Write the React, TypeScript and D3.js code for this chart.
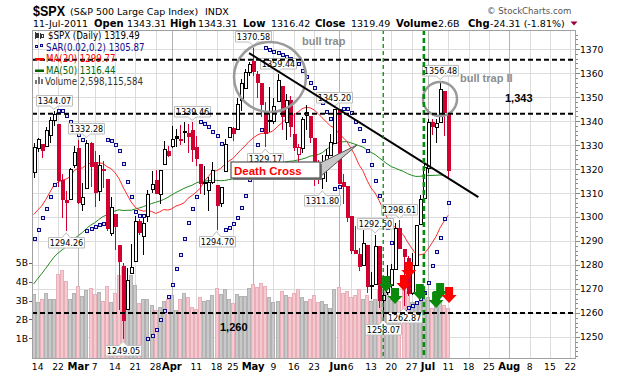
import React from "react";
import * as d3 from "d3";

// ---------- DATA ----------
const dates = [
  "Feb 11","Feb 14","Feb 15","Feb 16","Feb 17","Feb 18","Feb 22","Feb 23","Feb 24","Feb 25","Feb 28",
  "Mar 1","Mar 2","Mar 3","Mar 4","Mar 7","Mar 8","Mar 9","Mar 10","Mar 11","Mar 14","Mar 15","Mar 16","Mar 17","Mar 18","Mar 21","Mar 22","Mar 23","Mar 24","Mar 25","Mar 28","Mar 29","Mar 30","Mar 31",
  "Apr 1","Apr 4","Apr 5","Apr 6","Apr 7","Apr 8","Apr 11","Apr 12","Apr 13","Apr 14","Apr 15","Apr 18","Apr 19","Apr 20","Apr 21","Apr 25","Apr 26","Apr 27","Apr 28","Apr 29",
  "May 2","May 3","May 4","May 5","May 6","May 9","May 10","May 11","May 12","May 13","May 16","May 17","May 18","May 19","May 20","May 23","May 24","May 25","May 26","May 27","May 31",
  "Jun 1","Jun 2","Jun 3","Jun 6","Jun 7","Jun 8","Jun 9","Jun 10","Jun 13","Jun 14","Jun 15","Jun 16","Jun 17","Jun 20","Jun 21","Jun 22","Jun 23","Jun 24","Jun 27","Jun 28","Jun 29","Jun 30",
  "Jul 1","Jul 5","Jul 6","Jul 7","Jul 8","Jul 11"];

const opens = [
  1318.66,1328.73,1330.43,1329.51,1334.37,1340.38,1338.91,1315.44,1307.09,1307.34,1321.61,
  1328.64,1305.47,1312.37,1330.73,1322.72,1311.05,1319.92,1315.72,1293.43,1301.19,1288.46,1279.46,1261.61,1276.71,1281.65,1298.29,1292.19,1300.61,1311.80,1315.45,1309.37,1321.89,1327.44,
  1329.48,1333.56,1332.03,1335.94,1334.82,1336.16,1329.01,1321.96,1314.03,1311.13,1314.54,1313.35,1305.99,1319.12,1333.23,1337.14,1336.75,1348.43,1353.86,1360.14,
  1365.21,1359.76,1355.90,1344.16,1340.24,1340.20,1348.34,1354.51,1339.39,1348.69,1334.77,1326.10,1328.54,1342.40,1342.00,1333.07,1317.70,1316.36,1320.64,1325.69,1331.10,
  1345.20,1314.55,1312.94,1300.26,1286.31,1284.63,1279.63,1288.26,1271.31,1272.22,1287.87,1265.53,1268.58,1271.50,1278.40,1295.48,1286.60,1283.04,1268.44,1280.21,1296.85,1307.64,
  1320.64,1339.59,1337.56,1339.62,1352.39,1343.31];

const highs = [
  1330.79,1332.96,1330.43,1337.61,1341.50,1344.07,1338.91,1317.91,1310.91,1320.61,1329.38,
  1332.09,1314.19,1332.28,1331.08,1327.68,1325.74,1323.21,1315.72,1308.35,1301.19,1288.46,1280.91,1278.88,1288.88,1300.58,1299.35,1300.51,1311.34,1319.18,1319.74,1319.45,1331.74,1329.77,
  1337.85,1336.74,1338.21,1339.46,1338.80,1339.46,1333.77,1321.96,1321.35,1316.79,1322.88,1313.35,1312.70,1332.66,1337.49,1337.55,1349.55,1357.49,1361.71,1364.56,
  1370.58,1360.84,1355.90,1348.00,1354.36,1349.44,1359.44,1354.51,1351.05,1350.47,1343.33,1330.42,1341.82,1346.82,1342.00,1333.07,1323.72,1325.86,1328.51,1334.62,1345.20,
  1345.20,1318.03,1312.94,1300.26,1296.22,1287.04,1294.54,1288.26,1277.04,1292.50,1287.87,1274.11,1279.82,1280.42,1297.62,1298.61,1286.60,1283.93,1284.91,1296.80,1309.21,1321.97,
  1341.01,1340.89,1340.94,1356.48,1352.39,1343.31];

const lows = [
  1316.08,1326.90,1324.61,1329.51,1331.00,1338.12,1312.33,1299.55,1294.26,1307.34,1320.55,
  1305.34,1302.58,1312.37,1312.59,1303.99,1306.86,1312.27,1294.21,1291.99,1286.37,1261.12,1249.05,1261.61,1276.18,1281.65,1292.70,1284.05,1297.74,1310.15,1310.19,1305.26,1321.89,1325.03,
  1328.89,1329.10,1330.03,1330.66,1326.56,1322.94,1321.06,1309.51,1309.19,1302.42,1313.68,1294.70,1303.97,1319.12,1332.82,1331.47,1336.75,1344.25,1353.60,1358.69,
  1358.59,1349.52,1341.50,1329.17,1335.58,1338.64,1348.34,1336.36,1332.03,1333.36,1327.32,1318.51,1326.59,1336.36,1330.67,1312.88,1313.87,1311.80,1314.41,1325.69,1331.10,
  1313.71,1305.61,1297.90,1284.72,1284.74,1277.42,1279.63,1268.28,1265.64,1272.22,1261.90,1258.07,1267.40,1267.56,1278.40,1286.79,1262.87,1267.24,1267.53,1280.21,1296.85,1307.64,
  1318.18,1334.30,1330.92,1339.62,1333.71,1316.42];

const closes = [
  1329.15,1332.32,1328.01,1336.32,1340.43,1343.01,1315.44,1307.40,1306.10,1319.88,1327.22,
  1306.33,1308.44,1330.97,1321.15,1310.13,1321.82,1320.02,1295.11,1304.28,1296.39,1281.87,1256.88,1273.72,1279.21,1298.38,1293.77,1297.54,1309.66,1313.80,1310.19,1319.44,1328.26,1325.83,
  1332.41,1332.87,1332.63,1335.54,1333.51,1328.17,1324.46,1314.16,1314.41,1314.52,1319.68,1305.14,1312.62,1330.36,1337.38,1335.25,1347.24,1355.66,1360.48,1363.61,
  1361.22,1356.62,1347.32,1335.10,1340.20,1346.29,1357.16,1342.08,1348.65,1337.77,1329.47,1328.98,1340.68,1343.60,1333.27,1317.37,1316.28,1320.47,1325.69,1331.10,1345.20,
  1314.55,1312.94,1300.16,1286.17,1284.94,1279.56,1289.00,1270.98,1271.83,1287.87,1265.42,1267.64,1271.50,1278.36,1295.52,1287.14,1283.50,1268.45,1280.10,1296.67,1307.41,1320.64,
  1339.67,1337.88,1339.22,1353.22,1343.80,1319.49];

// volume, billions
const volumes = [
  3.34,2.90,3.10,3.38,3.06,3.10,4.39,4.60,4.03,3.10,3.38,
  3.77,3.24,3.56,3.64,3.34,3.47,2.97,3.77,2.94,3.41,4.35,4.79,4.08,4.35,3.82,2.85,3.10,3.10,2.76,2.50,2.67,2.97,3.06,
  3.29,2.50,3.06,3.38,3.17,2.67,2.53,3.20,2.99,3.03,3.29,3.64,3.34,3.59,3.06,2.85,3.34,3.24,3.24,3.64,
  3.85,3.70,3.90,3.75,3.20,2.90,3.00,3.50,3.30,3.20,3.40,3.60,3.20,3.00,3.10,3.30,2.90,3.00,2.80,2.60,3.60,
  3.70,3.40,3.50,3.20,3.30,3.60,3.10,3.30,3.00,3.10,3.60,3.80,3.90,3.10,3.30,3.00,3.60,3.50,2.90,2.90,3.00,3.10,
  3.20,2.60,2.80,2.90,2.76,2.60];

const ma20 = [
  1300.98,1302.93,1304.58,1307.30,1310.31,1313.29,1314.52,1315.33,1315.80,1316.82,1319.36,
  1320.37,1320.41,1321.76,1322.46,1322.42,1322.56,1322.33,1321.04,1320.16,1318.52,1316.00,1312.44,1309.31,1306.25,1304.02,1302.94,1302.45,1302.63,1302.33,1301.48,1302.14,1303.13,1302.87,
  1303.43,1304.57,1305.11,1305.89,1307.81,1309.00,1310.40,1312.01,1314.89,1316.93,1318.95,1319.29,1320.23,1321.87,1323.26,1324.33,1326.18,1327.99,1329.60,1331.49,
  1332.93,1334.12,1334.85,1334.83,1335.16,1336.07,1337.71,1339.11,1340.82,1341.98,1342.47,1343.66,1345.06,1345.72,1345.51,1344.62,1343.07,1341.31,1339.57,1337.94,1337.14,
  1335.04,1333.32,1331.57,1328.87,1325.80,1321.92,1319.27,1315.39,1312.09,1310.01,1306.83,1303.18,1299.57,1296.82,1295.73,1294.27,1292.42,1289.56,1287.01,1284.58,1284.22,1284.61,
  1286.59,1289.18,1291.89,1295.57,1298.31,1300.74];

const ma50 = [
  1272.10,1274.32,1276.38,1278.65,1280.98,1283.28,1284.93,1286.27,1287.58,1289.15,1290.99,
  1292.26,1293.55,1295.22,1296.55,1297.58,1298.88,1300.13,1300.86,1301.75,1302.52,1303.01,1302.71,1302.78,1302.83,1303.32,1303.77,1304.32,1305.03,1305.58,1306.11,1306.64,1307.30,1308.18,
  1309.22,1310.21,1311.05,1311.94,1312.67,1313.25,1314.21,1314.77,1314.91,1315.12,1315.37,1315.26,1315.13,1315.24,1315.57,1315.84,1316.20,1316.67,1317.32,1317.87,
  1318.28,1318.55,1319.19,1319.75,1320.43,1320.96,1321.56,1322.27,1323.08,1323.21,1323.38,1323.76,1324.13,1324.61,1325.37,1325.63,1326.03,1326.80,1328.18,1329.33,1330.65,
  1330.97,1331.35,1331.41,1330.94,1330.36,1329.75,1329.14,1327.99,1326.91,1326.02,1324.67,1323.37,1322.09,1320.99,1320.33,1319.59,1318.97,1318.05,1317.37,1316.91,1316.95,1317.11,
  1317.30,1317.31,1317.39,1317.51,1317.27,1316.45];

const sar = [
  1290.7,1294.6,1299.5,1303.3,1308.5,1313.3,1344.07,1344.07,1342.29,1339.41,1336.70,
  1334.15,1332.09,1294.26,1295.02,1295.77,1296.50,1297.22,1332.28,1331.52,1329.94,1327.32,1322.03,1314.73,1308.16,1302.25,1300.58,1300.58,1249.05,1250.30,1253.06,1257.06,1260.82,1266.49,
  1271.71,1278.32,1284.27,1290.74,1297.56,1303.43,1308.47,1339.46,1338.86,1337.67,1335.56,1333.57,1330.46,1294.70,1295.46,1297.14,1299.56,1303.56,1308.95,1315.28,
  1322.18,1329.92,1336.43,1370.58,1369.75,1368.94,1368.14,1367.36,1366.60,1365.85,1365.12,1363.61,1360.90,1358.36,1355.97,1353.72,1350.45,1347.44,1343.88,1340.67,1311.80,
  1312.47,1345.20,1345.20,1343.31,1339.79,1336.49,1331.76,1327.41,1321.50,1314.80,1308.90,1302.32,1295.24,1289.29,1258.07,1258.86,1260.45,1261.98,1262.87,1264.30,1265.67,1268.28,
  1272.58,1279.42,1285.58,1291.12,1298.96,1305.86];

// x-axis: trading-day slots counted from Feb 14 (future slots continue by weekday)
const tickSlots = [0,5,10,14,19,24,29,33,39,44,48,53,58,63,68,74,77,82,87,92,96,101,106,111,116,121,126,131];
const tickLabels = ["14","22","Mar","7","14","21","28","Apr","11","18","25","May","9","16","23","Jun","6","13","20","27","Jul","11","18","25","Aug","8","15","22"];
const priceTicks = [1250,1260,1270,1280,1290,1300,1310,1320,1330,1340,1350,1360,1370];
const volTicks = [1,2,3,4,5];

// annotations
const hiLoDays = ["Feb 18","Feb 24","Mar 3","Mar 16","Apr 8","Apr 18","May 2","May 5","May 10","May 25","May 31","Jun 14","Jun 16","Jun 22","Jun 23","Jul 7"];
const hiLoKinds = ["H","L","H","L","H","L","H","L","H","L","H","H","L","H","L","H"];
const levelLines = [1365.5, 1343, 1260];
const levelTexts = ["", "1,343", "1,260"];
const trendFrom = [52, 1368.3];
const trendTo = [108.4, 1308.3];
const vLineDays = ["Jun 16", "Jun 30"];
const arrowSlots = [85.7, 87.9, 90.1, 91.3, 94.0, 98.0, 99.0, 101.2];
const arrowTops = [1275.4, 1270.4, 1275.8, 1281.2, 1272.1, 1268.8, 1272.5, 1270.8];
const arrowKinds = ["up", "up", "down", "down", "up", "up", "up", "down"];

// ---------- CHART ----------
const FONT = "'DejaVu Sans Condensed','DejaVu Sans',Verdana,sans-serif";
const AFONT = "'DejaVu Sans',Verdana,sans-serif";
const ARIAL = "'Liberation Sans',Arial,sans-serif";
const RED = "#d00030";

export default function App() {
  const L = 32, R = 576, T = 30, B = 359;
  const x = d3.scaleLinear().domain([-1.4, 132.42]).range([L, R]);
  const y = d3.scaleLinear().domain([1240.83, 1377.92]).range([B, T]);
  const yv = d3.scaleLinear().domain([0, 5]).range([357.2, 262.7]);
  const slot = (i: number) => i - 1;
  const px = (i: number) => Math.round(x(slot(i))) + 0.5;

  const line = d3.line<number>().x((_, i) => x(slot(i))).y((d) => y(d));
  const ma20Path = line(ma20) || "";
  const ma50Path = line(ma50) || "";

  const minorTicks = d3.range(1242, 1378, 2);

  return (
    <svg width={620} height={376} style={{ position: "absolute", left: 0, top: 0, background: "#fff" }}
      xmlns="http://www.w3.org/2000/svg">
      <defs>
        <clipPath id="plot"><rect x={L} y={T} width={R - L} height={B - T} /></clipPath>
      </defs>
      <rect width={620} height={376} fill="#fff" />

      {/* header */}
      <text x={33} y={15.5} fontFamily={ARIAL} fontWeight="bold" fontSize={15} textLength={32} lengthAdjust="spacingAndGlyphs">$SPX</text>
      <text x={70} y={15} fontFamily={AFONT} fontSize={9.5}>(S&amp;P 500 Large Cap Index)</text>
      <text x={205} y={15} fontFamily={AFONT} fontSize={9.5}>INDX</text>
      <text x={487} y={14} fontFamily={AFONT} fontSize={8.6} fill="#555">© StockCharts.com</text>
      <g fontFamily={AFONT} fontSize={9.5} >
        <text x={33} y={27}>11-Jul-2011</text>
        <text x={94} y={27} fontWeight="bold" fontSize={10}>Open</text>
        <text x={127} y={27}>1343.31</text>
        <text x={170} y={27} fontWeight="bold" fontSize={10}>High</text>
        <text x={198} y={27}>1343.31</text>
        <text x={243} y={27} fontWeight="bold" fontSize={10}>Low</text>
        <text x={271} y={27}>1316.42</text>
        <text x={315} y={27} fontWeight="bold" fontSize={10}>Close</text>
        <text x={351} y={27}>1319.49</text>
        <text x={396} y={27} fontWeight="bold" fontSize={10}>Volume</text>
        <text x={438} y={27}>2.6B</text>
        <text x={468} y={27} fontWeight="bold" fontSize={10}>Chg</text>
        <text x={490} y={27}>-24.31 (-1.81%)</text>
      </g>
      <path d="M570.5,21.5 L577.5,21.5 L574,25.5 Z" fill="#99003d" />

      {/* plot background + grid */}
      <rect x={L} y={T} width={R - L} height={B - T} fill="#fff" />
      <g shapeRendering="crispEdges">
        {priceTicks.map((v) => (
          <line key={"h" + v} x1={L} x2={R} y1={Math.round(y(v)) + 0.5} y2={Math.round(y(v)) + 0.5} stroke="#dcdcdc" />
        ))}
        {tickSlots.map((s, k) => (
          <line key={"v" + k} x1={Math.round(x(s)) + 0.5} x2={Math.round(x(s)) + 0.5} y1={T} y2={B}
            stroke={/[A-Za-z]/.test(tickLabels[k]) ? "#b4b4b4" : "#dcdcdc"} />
        ))}
      </g>

      <g clipPath="url(#plot)">
        {/* volume */}
        <g shapeRendering="crispEdges">
          {volumes.map((v, i) => {
            const down = i > 0 && closes[i] < closes[i - 1];
            const cx = Math.round(x(slot(i)));
            const top = Math.round(yv(v));
            return (
              <g key={"vol" + i}>
                <rect x={cx - 2} y={top} width={4} height={B - top} fill={down ? "#eab0b9" : "#b2b2b2"} />
                <rect x={cx - 1} y={top + 1} width={2} height={B - top - 1} fill={down ? "#f6c9d0" : "#c9c9c9"} />
              </g>
            );
          })}
        </g>

        {/* moving averages */}
        <path d={ma50Path} fill="none" stroke="#1e8a1e" strokeWidth={1} />
        <path d={ma20Path} fill="none" stroke="#ff2a2a" strokeWidth={1} />

        {/* candles */}
        <g shapeRendering="crispEdges">
          {closes.map((c, i) => {
            const o = opens[i];
            const up = i === 0 ? c >= o : c >= closes[i - 1];
            const col = up ? "#000" : RED;
            const hollow = c > o;
            const cx = px(i);
            const yTop = y(Math.max(o, c));
            const yBot = y(Math.min(o, c));
            return (
              <g key={"c" + i}>
                <line x1={cx} x2={cx} y1={y(highs[i])} y2={y(lows[i])} stroke={col} />
                <rect x={cx - 1.5} y={Math.round(yTop) + 0.5} width={3} height={Math.max(1, Math.round(yBot - yTop))}
                  fill={hollow ? "#fff" : col} stroke={col} />
              </g>
            );
          })}
        </g>

        {/* Parabolic SAR */}
        <g shapeRendering="crispEdges">
          {sar.map((s, i) => (
            <rect key={"s" + i} x={Math.round(x(slot(i))) - 1} y={Math.round(y(s)) - 1.5} width={3} height={3}
              fill="#dfe0ff" stroke="#0a0a8c" strokeWidth={1} />
          ))}
        </g>
      </g>

      {/* hi/lo labels */}
      {hiLoDays.map((d, k) => {
        const i = dates.indexOf(d);
        const isH = hiLoKinds[k] === "H";
        const val = isH ? highs[i] : lows[i];
        const cx = x(slot(i));
        const py = y(val);
        const w = 36, h = 10.5;
        const bx = Math.round(cx - w / 2) + 0.5;
        const by = Math.round(isH ? py - 6 - h : py + 6) + 0.5;
        const tip = isH ? py - 2 : py + 2;
        const path = isH
          ? `M${bx},${by} H${bx + w} V${by + h} H${cx + 4} L${cx},${tip} L${cx - 4},${by + h} H${bx} Z`
          : `M${bx},${by} H${cx - 4} L${cx},${tip} L${cx + 4},${by} H${bx + w} V${by + h} H${bx} Z`;
        return (
          <g key={"lab" + k}>
            <path d={path} fill="#fff" stroke="#bdbdbd" />
            <text x={bx + w / 2} y={by + 8.5} textAnchor="middle" fontFamily={FONT} fontSize={9}>{val.toFixed(2)}</text>
          </g>
        );
      })}

      {/* circles */}
      <ellipse cx={270} cy={77} rx={36} ry={35} fill="none" stroke="#9a9a9a" strokeWidth={2.5} />
      <circle cx={440} cy={99} r={17} fill="none" stroke="#9a9a9a" strokeWidth={2.5} />
      <text x={302} y={45} fontFamily={ARIAL} fontWeight="bold" fontSize={11} fill="#8c8c8c">bull trap</text>
      <text x={460} y={81.5} fontFamily={ARIAL} fontWeight="bold" fontSize={11} fill="#8c8c8c">bull trap II</text>

      {/* trend line */}
      <line x1={x(trendFrom[0])} y1={y(trendFrom[1])} x2={x(trendTo[0])} y2={y(trendTo[1])} stroke="#000" strokeWidth={2} />

      {/* death cross callout */}
      <g>
        <polygon points="318,164 357,145 321,176" fill="#c8c8c8" stroke="#555" strokeWidth={1} />
        <rect x={233} y={164} width={89} height={16} fill="#777" />
        <rect x={231} y={162} width={89} height={16} fill="#fff" stroke="#555" strokeWidth={1.2} />
        <text x={234} y={175} fontFamily={ARIAL} fontWeight="bold" fontSize={11.5} fill="#ff0000">Death Cross</text>
      </g>

      {/* arrows */}
      {arrowSlots.map((s, k) => {
        const cx = x(s);
        const top = y(arrowTops[k]);
        const col = arrowKinds[k] === "up" ? "#0a8a0a" : "#ff0000";
        return (
          <path key={"ar" + k}
            d={`M${cx - 4},${top} H${cx + 4} V${top + 8} H${cx + 7.5} L${cx},${top + 16} L${cx - 7.5},${top + 8} H${cx - 4} Z`}
            fill={col} />
        );
      })}

      {/* vertical dashed lines */}
      <line x1={x(slot(dates.indexOf(vLineDays[0])))} x2={x(slot(dates.indexOf(vLineDays[0])))} y1={T} y2={B}
        stroke="#0a8a0a" strokeWidth={1.3} strokeDasharray="4,3" />
      <line x1={x(slot(dates.indexOf(vLineDays[1])))} x2={x(slot(dates.indexOf(vLineDays[1])))} y1={T} y2={B}
        stroke="#0a8a0a" strokeWidth={2.6} strokeDasharray="5,3" />

      {/* level lines */}
      {levelLines.map((v, k) => (
        <line key={"lv" + k} x1={L} x2={R} y1={y(v)} y2={y(v)} stroke="#000" strokeWidth={2} strokeDasharray="5,3" />
      ))}
      <text x={505} y={102} fontFamily={ARIAL} fontWeight="bold" fontSize={11}>{levelTexts[1]}</text>
      <text x={220} y={331} fontFamily={ARIAL} fontWeight="bold" fontSize={11}>{levelTexts[2]}</text>

      {/* legend */}
      <g fontFamily={FONT} fontSize={9.6}>
        <g stroke="#333" shapeRendering="crispEdges">
          <line x1={35.5} x2={35.5} y1={32} y2={39} />
          <rect x={36.5} y={33.5} width={2} height={4} fill="#333" />
          <line x1={40.5} x2={40.5} y1={33} y2={39} />
          <rect x={41.5} y={34.5} width={1.5} height={3} fill="#fff" />
        </g>
        <text x={48} y={39}>$SPX (Daily) 1319.49</text>
        <rect x={35.5} y={45.5} width={2} height={2} fill="#dfe0ff" stroke="#0a0a8c" />
        <rect x={40.5} y={44.5} width={2} height={2} fill="#dfe0ff" stroke="#0a0a8c" />
        <text x={46} y={50.5} fill="#0a0a8c">SAR(0.02,0.2) 1305.87</text>
        <rect x={35} y={58} width={9} height={2.5} fill="#ff0000" />
        <text x={46} y={62} fill="#ff0000">MA(20) 1299.77</text>
        <rect x={35} y={69.5} width={9} height={2.5} fill="#006400" />
        <text x={46} y={73.5} fill="#006400">MA(50) 1316.44</text>
        <g fill="#777" shapeRendering="crispEdges">
          <rect x={35} y={80} width={2} height={4} />
          <rect x={38} y={77} width={2} height={7} />
          <rect x={41} y={79} width={2} height={5} />
        </g>
        <text x={45} y={84.5} fill="#333">Volume 2,598,115,584</text>
      </g>

      {/* frame */}
      <rect x={L + 0.5} y={T + 0.5} width={R - L - 1} height={B - T - 1} fill="none" stroke="#a0a0a0" shapeRendering="crispEdges" />

      {/* right axis */}
      <g shapeRendering="crispEdges" stroke="#888">
        {minorTicks.map((v) => (
          <line key={"mt" + v} x1={R} x2={v % 10 === 0 ? R + 4 : R + 2} y1={Math.round(y(v)) + 0.5} y2={Math.round(y(v)) + 0.5} />
        ))}
      </g>
      {priceTicks.map((v) => (
        <text key={"pt" + v} x={580} y={y(v) + 3.5} fontFamily={AFONT} fontSize={9.2}>{v}</text>
      ))}

      {/* left volume axis */}
      {volTicks.map((v) => (
        <g key={"vt" + v}>
          <line x1={29} x2={L} y1={Math.round(yv(v)) + 0.5} y2={Math.round(yv(v)) + 0.5} stroke="#666" shapeRendering="crispEdges" />
          <text x={28} y={yv(v) + 3.5} textAnchor="end" fontFamily={AFONT} fontSize={9.2}>{v + "B"}</text>
        </g>
      ))}

      {/* bottom axis labels */}
      {tickSlots.map((s, k) => {
        const bold = /[A-Za-z]/.test(tickLabels[k]);
        return (
          <text key={"xl" + k} x={x(s)} y={369.5} textAnchor="middle" fontFamily={AFONT}
            fontSize={bold ? 10 : 9.2} fontWeight={bold ? "bold" : "normal"}>{tickLabels[k]}</text>
        );
      })}
    </svg>
  );
}
